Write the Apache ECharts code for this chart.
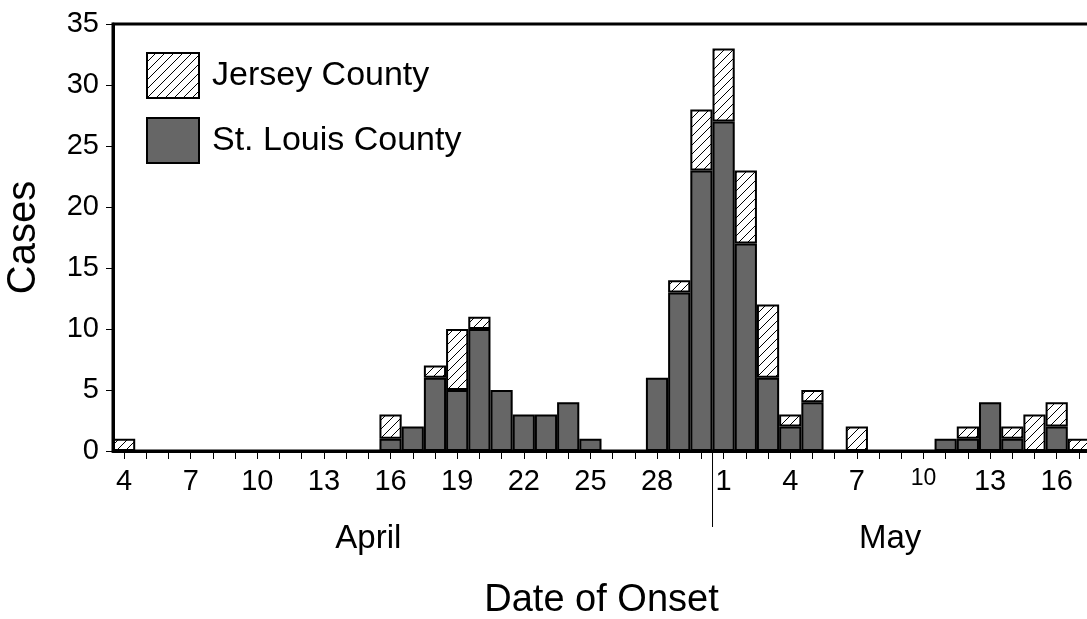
<!DOCTYPE html>
<html>
<head>
<meta charset="utf-8">
<script src="https://cdn.jsdelivr.net/npm/echarts@6/dist/echarts.min.js"></script>
<style>
html,body{margin:0;padding:0;background:#fff;}
#chart{width:1087px;height:619px;}
</style>
</head>
<body>
<div id="chart"></div>
<script>
// ---- data ----
const aprilDays = [4,5,6,7,8,9,10,11,12,13,14,15,16,17,18,19,20,21,22,23,24,25,26,27,28,29,30];
const mayDays = [1,2,3,4,5,6,7,8,9,10,11,12,13,14,15,16,17];
const stLouisApril = [0,0,0,0,0,0,0,0,0,0,0,0,1,2,6,5,10,5,3,3,4,1,0,0,6,13,23];
const stLouisMay = [27,17,6,2,4,0,0,0,0,0,1,1,4,1,0,2,0];
const jerseyApril = [1,0,0,0,0,0,0,0,0,0,0,0,2,0,1,5,1,0,0,0,0,0,0,0,0,1,5];
const jerseyMay = [6,6,6,1,1,0,2,0,0,0,0,1,0,1,3,2,1];
const yTicks = [0,5,10,15,20,25,30,35];
const seriesNames = ['Jersey County','St. Louis County'];
const monthNames = ['April','May'];

const categories = aprilDays.map(d => 'Apr ' + d).concat(mayDays.map(d => 'May ' + d));
const stLouis = stLouisApril.concat(stLouisMay).map(v => v === 0 ? null : v);
const jersey = jerseyApril.concat(jerseyMay).map(v => v === 0 ? null : v);

// hatch pattern
function makeHatch() {
  const s = 9;
  const c = document.createElement('canvas');
  c.width = s; c.height = s;
  const g = c.getContext('2d');
  g.fillStyle = '#fff';
  g.fillRect(0, 0, s, s);
  g.strokeStyle = '#000';
  g.lineWidth = 1;
  g.beginPath();
  g.moveTo(-1, s + 1); g.lineTo(s + 1, -1);
  g.moveTo(-1, 1); g.lineTo(1, -1);
  g.moveTo(s - 1, s + 1); g.lineTo(s + 1, s - 1);
  g.stroke();
  return c;
}
const hatch = makeHatch();

const FONT = '"Liberation Sans", Arial, sans-serif';
const chart = echarts.init(document.getElementById('chart'), null, {renderer: 'canvas'});

chart.setOption({
  animation: false,
  backgroundColor: '#fff',
  textStyle: {fontFamily: FONT, color: '#000'},
  grid: {left: 113, top: 24, right: -3, bottom: 168, containLabel: false, outerBoundsMode: 'none',
    show: true, borderColor: '#000', borderWidth: 3, backgroundColor: 'transparent'},
  legend: {
    data: seriesNames,
    orient: 'vertical',
    icon: 'rect',
    left: 141, top: 47,
    itemWidth: 52, itemHeight: 45, itemGap: 18,
    textStyle: {fontFamily: FONT, fontSize: 34, color: '#000', padding: [0,0,0,8]},
    selectedMode: false
  },
  xAxis: {
    type: 'category',
    data: categories,
    boundaryGap: true,
    name: 'Date of Onset',
    nameLocation: 'middle',
    nameGap: 131,
    nameTextStyle: {fontFamily: FONT, fontSize: 38, color: '#000'},
    axisLine: {lineStyle: {color: '#000', width: 3}},
    axisTick: {show: true, interval: 0, alignWithLabel: true, length: 8, lineStyle: {color: '#000', width: 1}},
    axisLabel: {
      interval: 2, margin: 16, fontFamily: FONT, fontSize: 29, color: '#000',
      formatter: function (v) {
        const d = v.split(' ')[1];
        return v === 'May 10' ? '{s|' + d + '}' : d;
      },
      rich: {s: {fontFamily: FONT, fontSize: 23, color: '#000'}}
    },
    splitLine: {show: false}
  },
  yAxis: {
    type: 'value',
    min: 0, max: 35, interval: 5,
    name: 'Cases',
    nameLocation: 'middle',
    nameGap: 69,
    nameRotate: 90,
    nameTextStyle: {fontFamily: FONT, fontSize: 40, color: '#000'},
    axisLine: {show: true, lineStyle: {color: '#000', width: 3}},
    axisTick: {show: true, length: 7, lineStyle: {color: '#000', width: 1}},
    axisLabel: {margin: 14, fontFamily: FONT, fontSize: 29, color: '#000',
      formatter: function (v) { return yTicks.indexOf(v) >= 0 ? String(v) : ''; }},
    splitLine: {show: false}
  },
  series: [
    {
      name: seriesNames[1], type: 'bar', stack: 'total', data: stLouis,
      barCategoryGap: '0%',
      itemStyle: {color: '#666666', borderColor: '#000', borderWidth: 2}
    },
    {
      name: seriesNames[0], type: 'bar', stack: 'total', data: jersey,
      barCategoryGap: '0%',
      itemStyle: {color: {image: hatch, repeat: 'repeat'}, borderColor: '#000', borderWidth: 2}
    }
  ]
});

// month divider and month labels
function place() {
  const xLast = chart.convertToPixel({xAxisIndex: 0}, 'Apr 30');
  const xFirst = chart.convertToPixel({xAxisIndex: 0}, 'May 1');
  const divX = (xLast + xFirst) / 2;
  const y0 = chart.convertToPixel({yAxisIndex: 0}, 0);
  const aprX = chart.convertToPixel({xAxisIndex: 0}, 'Apr 15');
  const mayX = (chart.convertToPixel({xAxisIndex: 0}, 'May 8') + chart.convertToPixel({xAxisIndex: 0}, 'May 9')) / 2;
  chart.setOption({
    graphic: [
      {type: 'line', shape: {x1: divX, y1: y0, x2: divX, y2: y0 + 76}, style: {stroke: '#000', lineWidth: 1}},
      {type: 'text', x: aprX, y: y0 + 88, style: {text: monthNames[0], font: '33px ' + FONT, fill: '#000', align: 'center', verticalAlign: 'middle'}},
      {type: 'text', x: mayX, y: y0 + 88, style: {text: monthNames[1], font: '33px ' + FONT, fill: '#000', align: 'center', verticalAlign: 'middle'}}
    ]
  });
}
place();
</script>
</body>
</html>
